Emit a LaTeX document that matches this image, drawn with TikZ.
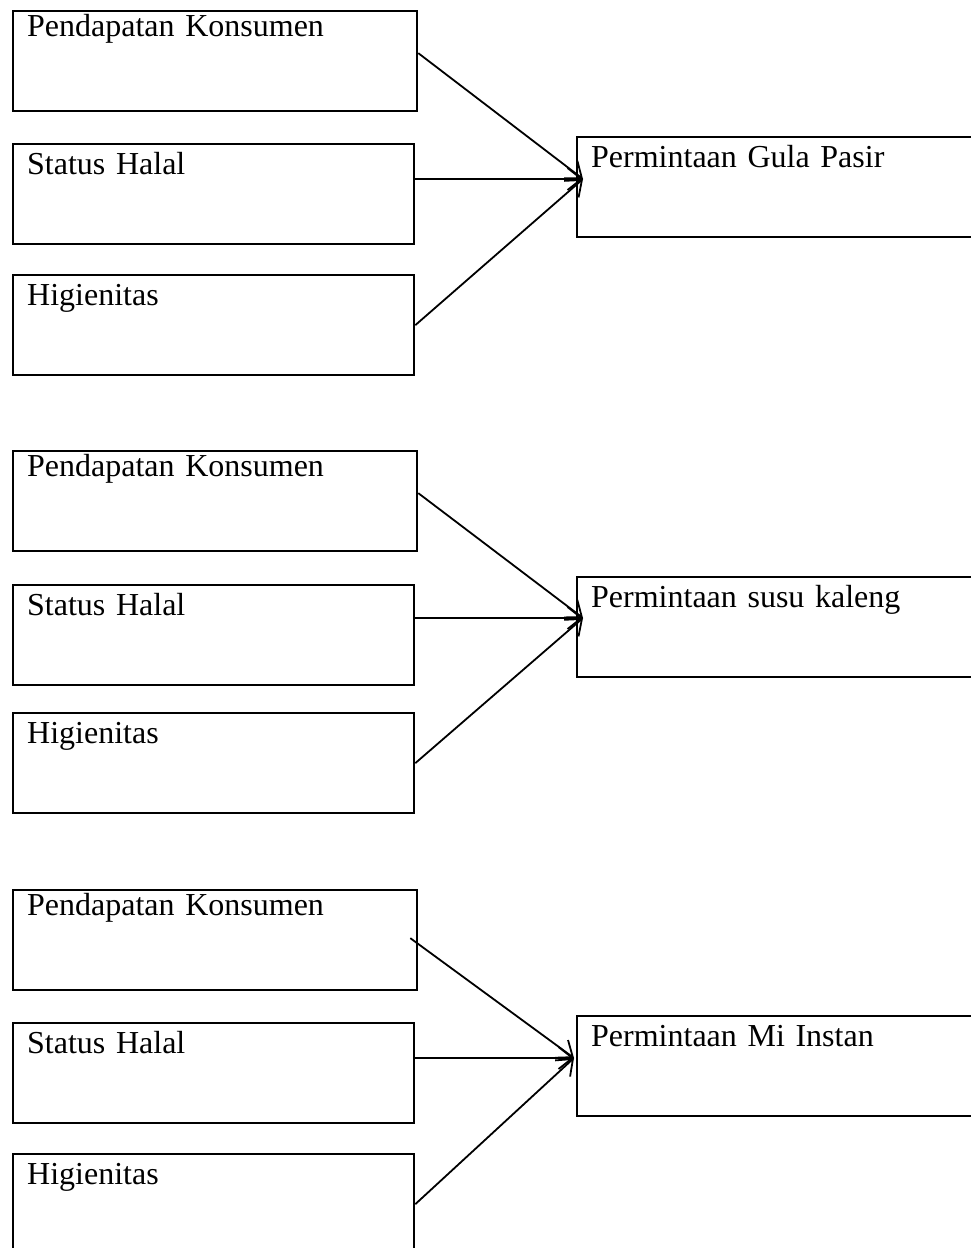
\documentclass[tikz,border=0pt]{standalone}
\usepackage{fontspec}
\setmainfont{Liberation Serif}
\usetikzlibrary{arrows.meta}
\begin{document}
\begin{tikzpicture}[x=1pt,y=-1pt,
    box/.style={draw, line width=2.3pt, anchor=north west, align=left, inner xsep=14pt, inner ysep=4pt,
      text width=#1, text height=26pt, text depth=66pt, font=\fontsize{32}{38}\selectfont},
    box/.default=373pt,
    top/.style={box=376pt, text height=21pt, text depth=71pt},
    goal/.style={box=376pt, text height=26pt, text depth=66pt},
    link/.style={->, >={Straight Barb[length=14pt,width=22pt]}, line width=1.8pt}]
  \useasboundingbox (0,0) rectangle (971,1248);
  % gula pasir
  \node[top] (a1) at (12,10) {Pendapatan Konsumen};
  \node[box] (b1) at (12,143) {Status Halal};
  \node[box] (c1) at (12,274) {Higienitas};
  \node[goal] (t1) at (576,136) {Permintaan Gula Pasir};
  \coordinate (p1) at (583,179);
  \draw[link] ([yshift=8pt]a1.east) -- (p1);
  \draw[link] (b1.east |- p1) -- (p1);
  \draw[link] (c1.east) -- (p1);
  % susu kaleng
  \node[top] (a2) at (12,450) {Pendapatan Konsumen};
  \node[box] (b2) at (12,584) {Status Halal};
  \node[box] (c2) at (12,712) {Higienitas};
  \node[goal] (t2) at (576,576) {Permintaan susu kaleng};
  \coordinate (p2) at (583,618);
  \draw[link] ([yshift=8pt]a2.east) -- (p2);
  \draw[link] (b2.east |- p2) -- (p2);
  \draw[link] (c2.east) -- (p2);
  % mi instan
  \node[top] (a3) at (12,889) {Pendapatan Konsumen};
  \node[box] (b3) at (12,1022) {Status Halal};
  \node[box] (c3) at (12,1153) {Higienitas};
  \node[goal] (t3) at (576,1015) {Permintaan Mi Instan};
  \coordinate (p3) at (574,1058);
  \draw[link] ([xshift=-8pt,yshift=2pt]a3.east) -- (p3);
  \draw[link] (b3.east |- p3) -- (p3);
  \draw[link] (c3.east) -- (p3);
\end{tikzpicture}
\end{document}
